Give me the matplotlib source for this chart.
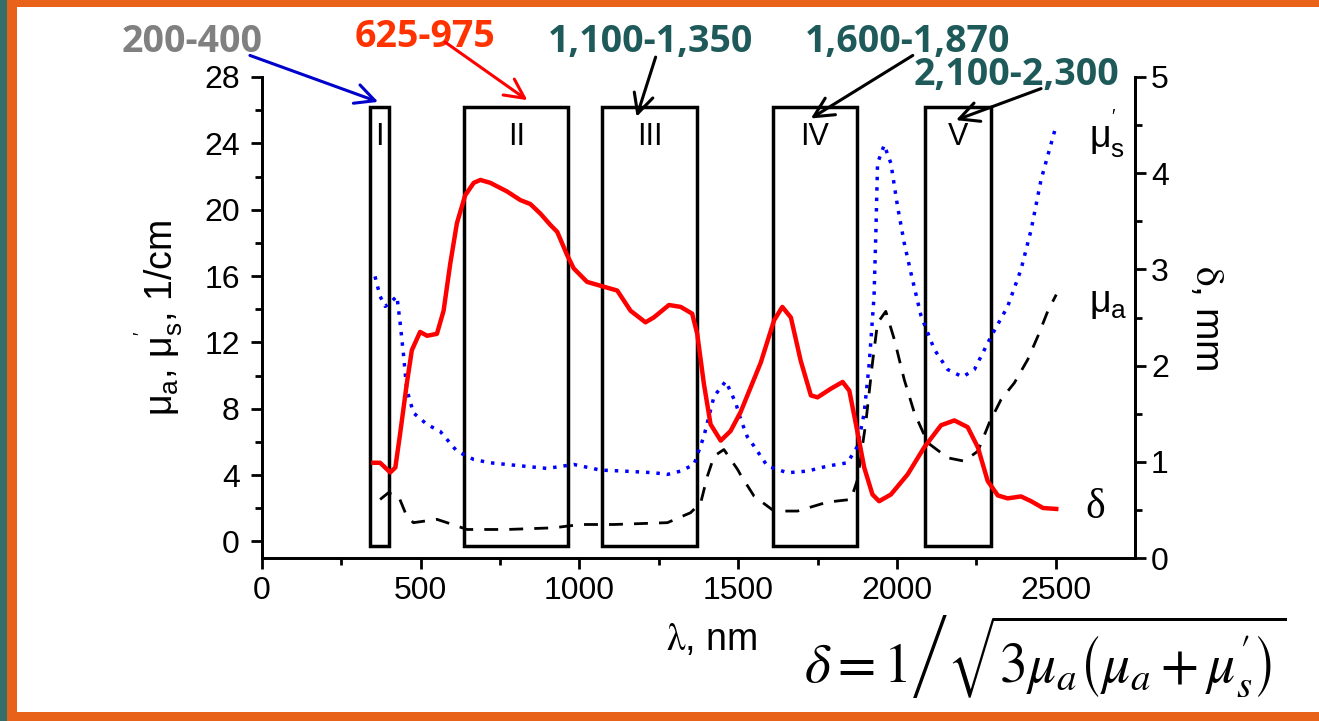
import numpy as np
import matplotlib
matplotlib.use("Agg")
from matplotlib import pyplot as plt
from matplotlib.patches import Rectangle

plt.rcParams['font.family'] = ['Liberation Sans', 'DejaVu Sans']
plt.rcParams['mathtext.fontset'] = 'custom'
plt.rcParams['mathtext.rm'] = 'Liberation Sans'
plt.rcParams['mathtext.it'] = 'Liberation Sans:italic'

# delta, mm (right axis)
wl_delta = [351, 372, 404, 420, 435, 456, 472, 498, 520, 551, 572, 593, 614, 640,
            667, 688, 719, 772, 814, 845, 877, 909, 930, 961, 982, 1024, 1077,
            1119, 1161, 1208, 1234, 1282, 1319, 1355, 1371, 1392, 1413, 1445,
            1476, 1508, 1571, 1613, 1639, 1666, 1697, 1729, 1750, 1792, 1829,
            1850, 1871, 1897, 1923, 1944, 1981, 2034, 2086, 2139, 2181, 2223,
            2255, 2286, 2318, 2349, 2391, 2423, 2460, 2502]
delta = [0.99, 0.99, 0.89, 0.94, 1.29, 1.81, 2.16, 2.35, 2.31, 2.33, 2.57, 3.06,
         3.48, 3.77, 3.90, 3.93, 3.90, 3.81, 3.72, 3.68, 3.58, 3.46, 3.39, 3.15,
         3.01, 2.87, 2.82, 2.78, 2.57, 2.45, 2.50, 2.63, 2.61, 2.54, 2.33, 1.81,
         1.39, 1.22, 1.32, 1.52, 2.03, 2.47, 2.61, 2.50, 2.05, 1.69, 1.67, 1.76,
         1.83, 1.74, 1.39, 0.94, 0.66, 0.59, 0.66, 0.87, 1.15, 1.38, 1.43, 1.36,
         1.15, 0.80, 0.65, 0.62, 0.64, 0.59, 0.52, 0.51]

# mu_s', 1/cm (left axis)
wl_mus = [356, 372, 388, 404, 425, 435, 446, 456, 477, 520, 561, 614, 667, 719,
          824, 898, 982, 1066, 1140, 1234, 1277, 1319, 1361, 1392, 1424, 1461,
          1492, 1508, 1529, 1550, 1592, 1655, 1718, 1781, 1844, 1876, 1897,
          1913, 1928, 1934, 1939, 1960, 1981, 2002, 2023, 2044, 2076, 2118,
          2160, 2207, 2244, 2297, 2349, 2391, 2423, 2454, 2486, 2502]
mus = [15.98, 14.78, 14.17, 14.4, 14.78, 13.2, 11.2, 9.16, 7.75, 7.05, 6.64,
       5.44, 4.94, 4.74, 4.54, 4.40, 4.64, 4.30, 4.24, 4.14, 4.04, 4.24, 4.64,
       6.34, 8.75, 9.66, 8.36, 7.35, 6.3, 5.74, 4.54, 4.14, 4.24, 4.54, 4.74,
       5.74, 7.75, 10.76, 14.78, 18.8, 22.8, 23.9, 22.8, 20.2, 18.0, 16.2,
       13.6, 11.57, 10.36, 9.92, 10.36, 12.37, 14.17, 16.4, 18.8, 21.8, 24.0,
       25.1]

# mu_a, 1/cm (left axis)
wl_mua = [372, 398, 430, 456, 477, 551, 583, 646, 772, 919, 1003, 1108, 1277,
          1350, 1382, 1403, 1424, 1455, 1498, 1508, 1550, 1613, 1687, 1781,
          1855, 1876, 1902, 1923, 1939, 1965, 1992, 2023, 2055, 2097, 2160,
          2212, 2255, 2291, 2328, 2370, 2412, 2444, 2475, 2502]
mua = [2.53, 2.93, 2.73, 1.52, 1.13, 1.33, 1.13, 0.72, 0.72, 0.82, 1.02, 1.02,
       1.13, 1.73, 2.33, 3.93, 5.14, 5.54, 4.34, 4.0, 2.73, 1.83, 1.83, 2.37,
       2.53, 3.73, 7.15, 10.76, 13.17, 13.87, 12.17, 9.76, 7.75, 5.95, 5.04,
       4.84, 5.44, 7.15, 8.55, 9.56, 10.96, 12.37, 13.87, 14.88]

# spectral windows
box_lo = [340, 637, 1072, 1609, 2088]
box_hi = [400, 965, 1369, 1874, 2297]
box_names = ['I', 'II', 'III', 'IV', 'V']

fig = plt.figure(figsize=(13.19, 7.21), dpi=100)

# slide frame
orange = '#E8621A'
fig.patches.append(Rectangle((0, 1 - 7 / 721), 1, 7 / 721, transform=fig.transFigure,
                             facecolor=orange, edgecolor='none', zorder=-5))
fig.patches.append(Rectangle((0, 0), 1, 9 / 721, transform=fig.transFigure,
                             facecolor=orange, edgecolor='none', zorder=-5))
fig.patches.append(Rectangle((7 / 1319, 0), 10 / 1319, 1, transform=fig.transFigure,
                             facecolor=orange, edgecolor='none', zorder=-5))
fig.patches.append(Rectangle((0, 0), 7 / 1319, 1, transform=fig.transFigure,
                             facecolor='#356F69', edgecolor='none', zorder=-5))

ax = fig.add_axes([262 / 1319, 1 - 558 / 721, 873 / 1319, 481 / 721])
ax.patch.set_alpha(0)
ax2 = ax.twinx()

ax.plot(wl_mus, mus, color='#0000FF', linestyle=(0, (1, 2)), linewidth=2.5)
ax.plot(wl_mua, mua, color='black', linestyle=(0, (5, 4)), linewidth=2,
        dash_joinstyle='round')
ax2.plot(wl_delta, delta, color='#FF0000', linewidth=3.2, solid_joinstyle='round')

for lo, hi, nm in zip(box_lo, box_hi, box_names):
    ax.add_patch(Rectangle((lo, -0.25), hi - lo, 26.45, fill=False,
                           edgecolor='black', linewidth=2.5))
    ax.text((lo + hi) / 2, 24.4, nm, ha='center', va='center', fontsize=22)

ax.set_xlim(0, 2750)
ax.set_ylim(-1, 28)
ax2.set_ylim(0, 5)
ax.set_xticks([0, 500, 1000, 1500, 2000, 2500])
ax.set_xticks(np.arange(250, 2750, 500), minor=True)
ax.set_yticks(np.arange(0, 29, 4))
ax.set_yticks(np.arange(2, 28, 4), minor=True)
ax2.set_yticks([0, 1, 2, 3, 4, 5])
ax2.set_yticks(np.arange(0.5, 5, 1), minor=True)

for a in (ax, ax2):
    a.spines['top'].set_visible(False)
    for s in a.spines.values():
        s.set_linewidth(2)
    a.tick_params(which='major', length=8, width=2, labelsize=23)
    a.tick_params(which='minor', length=5, width=2)
ax.tick_params(axis='x', pad=5)
ax.tick_params(axis='y', pad=8)

ax.set_ylabel("μ$_\\mathregular{a}$, μ$_\\mathregular{s}^{\\mathregular{'}}$, 1/cm",
              fontsize=27, labelpad=14)
ax2.set_ylabel("$\\mathrm{\\delta}$, mm", fontsize=28, rotation=270,
               labelpad=40, math_fontfamily='stix')

# curve labels
ax.text(2605, 24.6, "μ$_\\mathregular{s}^{\\mathregular{'}}$", fontsize=27,
        va='center', clip_on=False)
ax.text(2605, 14.4, "μ$_\\mathregular{a}$", fontsize=27, va='center', clip_on=False)
ax2.text(2595, 0.52, "δ", fontsize=30, va='center', family='Liberation Serif',
         clip_on=False)

# range annotations
teal = '#1F5A5A'
notes = [("200-400", (-221, 30.1), (-38, 29.3), (366, 26.5), '#808080', '#0000CC'),
         ("625-975", (514, 30.4), (577, 30.1), (836, 26.6), '#FF3300', '#FF0000'),
         ("1,100-1,350", (1224, 30.1), (1240, 29.2), (1180, 25.6), teal, 'black'),
         ("1,600-1,870", (2035, 30.1), (2050, 29.3), (1729, 25.5), teal, 'black'),
         ("2,100-2,300", (2375, 28.1), (2454, 27.3), (2186, 25.4), teal, 'black')]
for txt, pos, tail, head, tc, ac in notes:
    ax.text(pos[0], pos[1], txt, color=tc, fontsize=27, fontweight='bold',
            family='Open Sans', ha='center', va='center', clip_on=False)
    ax.annotate('', xy=head, xytext=tail, annotation_clip=False,
                arrowprops=dict(arrowstyle='->,head_length=0.7,head_width=0.35',
                                color=ac, linewidth=2.2, mutation_scale=20,
                                shrinkA=0, shrinkB=0))

fig.text(712 / 1319, 1 - 640 / 721, "$\\mathrm{\\lambda}$, nm", fontsize=27,
         ha='center', va='center', math_fontfamily='stix')
fig.text(1045 / 1319, 1 - 657 / 721,
         "$\\delta = 1\\left/\\sqrt{3\\mu_a\\left(\\mu_a + \\mu_s^{\\prime}\\right)}\\right.$",
         fontsize=40, ha='center', va='center', math_fontfamily='stix')

fig.savefig('out.png', dpi=100)
